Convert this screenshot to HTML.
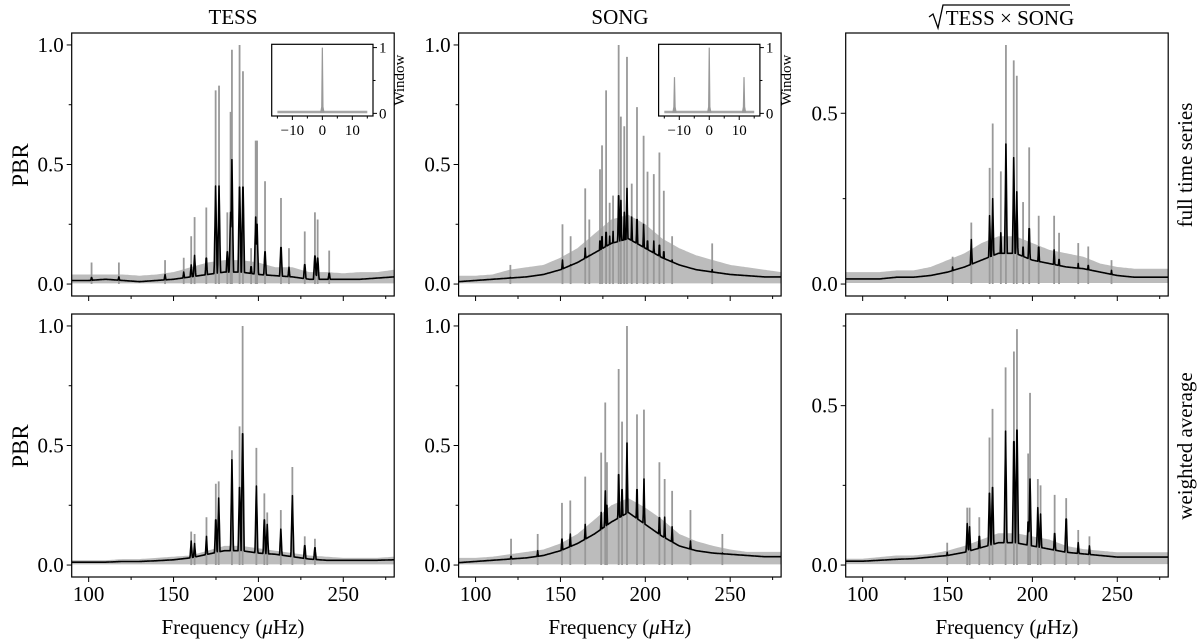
<!DOCTYPE html>
<html><head><meta charset="utf-8"><style>
body{margin:0;background:#fff}
svg{display:block;font-family:"Liberation Serif",serif}
</style></head><body>
<svg id="fig" width="1200" height="642" viewBox="0 0 1200 642" xmlns="http://www.w3.org/2000/svg"></svg>
<script>
// ---- data ----
const bgFreq = [90,100,110,120,130,140,150,160,170,180,190,200,210,220,230,240,250,260,270,280];

const tessFullPeakFreq = [101.7,117.8,145,156,160.4,162.4,169.3,174.8,176.8,181.7,183.6,184.4,188.9,190.9,195.7,198.4,199.2,203.9,213.3,218,227.3,233.3,234.9,241.7];
const tessFullPeakGray = [0.09,0.09,0.10,0.11,0.20,0.28,0.32,0.81,0.83,0.30,0.72,0.98,1.0,0.89,0.15,0.60,0.60,0.43,0.36,0.15,0.22,0.30,0.27,0.14];
const tessFullPeakBlack = [0.03,0.03,0.04,0.05,0.08,0.12,0.12,0.41,0.41,0.15,0.30,0.52,0.45,0.45,0.08,0.28,0.25,0.15,0.17,0.07,0.09,0.13,0.12,0.05];
const tessFullBgGray = [0.04,0.04,0.04,0.04,0.035,0.04,0.05,0.07,0.09,0.10,0.10,0.09,0.07,0.07,0.05,0.05,0.045,0.05,0.05,0.06];
const tessFullBgBlack = [0.015,0.015,0.02,0.015,0.01,0.015,0.02,0.03,0.04,0.05,0.05,0.04,0.035,0.03,0.02,0.02,0.02,0.02,0.025,0.03];

const songFullPeakFreq = [120.5,151.2,156,164.6,167,173.3,174.5,176.9,179,181,184.3,185.6,187.6,189.2,192,195.1,199,201.3,205,208.3,210.9,215.8,239.4];
const songFullPeakGray = [0.08,0.25,0.20,0.40,0.27,0.48,0.58,0.81,0.34,0.37,1.0,0.70,0.66,0.95,0.42,0.74,0.62,0.47,0.46,0.55,0.39,0.20,0.17];
const songFullPeakBlack = [0.03,0.10,0.08,0.15,0.12,0.20,0.22,0.24,0.2,0.22,0.41,0.35,0.30,0.40,0.28,0.30,0.25,0.2,0.18,0.18,0.15,0.10,0.06];
const songFullBgGray = [0.035,0.035,0.04,0.06,0.07,0.08,0.11,0.15,0.21,0.27,0.29,0.25,0.19,0.15,0.12,0.10,0.08,0.07,0.06,0.05];
const songFullBgBlack = [0.01,0.015,0.02,0.025,0.03,0.04,0.06,0.09,0.13,0.17,0.19,0.15,0.11,0.08,0.06,0.05,0.04,0.035,0.03,0.03];

const combFullPeakFreq = [153,164,174.8,176.6,181.4,184.4,189,190.8,194.5,198.1,203.7,212.8,215.7,227,232.9,246.6];
const combFullPeakGray = [0.08,0.18,0.34,0.47,0.33,0.70,0.655,0.61,0.24,0.40,0.2,0.2,0.15,0.12,0.11,0.07];
const combFullPeakBlack = [0.05,0.13,0.20,0.25,0.15,0.41,0.37,0.27,0.12,0.18,0.12,0.1,0.08,0.06,0.06,0.04];
const combFullBgGray = [0.035,0.035,0.035,0.04,0.04,0.05,0.07,0.09,0.12,0.14,0.14,0.12,0.10,0.09,0.08,0.06,0.05,0.045,0.045,0.045];
const combFullBgBlack = [0.015,0.015,0.015,0.02,0.02,0.025,0.035,0.05,0.07,0.09,0.09,0.07,0.06,0.05,0.045,0.035,0.025,0.02,0.02,0.02];

const tessAvgPeakFreq = [160.4,162.4,169.4,174.9,176.6,184.4,188.9,190.7,198.8,203.5,205.2,213.2,220,227.3,233.3];
const tessAvgPeakGray = [0.14,0.13,0.20,0.34,0.35,0.48,0.58,1.0,0.49,0.30,0.22,0.23,0.41,0.12,0.11];
const tessAvgPeakBlack = [0.10,0.09,0.12,0.21,0.28,0.44,0.36,0.61,0.33,0.21,0.17,0.15,0.29,0.09,0.08];
const tessAvgBgGray = [0.02,0.02,0.02,0.025,0.025,0.03,0.035,0.04,0.06,0.08,0.08,0.07,0.06,0.05,0.04,0.035,0.03,0.03,0.03,0.035];
const tessAvgBgBlack = [0.012,0.012,0.012,0.015,0.015,0.018,0.022,0.03,0.045,0.06,0.06,0.05,0.045,0.035,0.025,0.02,0.02,0.02,0.02,0.022];

const songAvgPeakFreq = [120.9,136.6,150.9,155.8,164.6,174,176.4,177.4,184.3,186.3,189.2,195.1,199.2,208.3,211.4,215.8,226.6,245.4];
const songAvgPeakGray = [0.11,0.13,0.26,0.27,0.37,0.47,0.68,0.43,0.82,0.60,1.0,0.63,0.65,0.43,0.36,0.31,0.23,0.13];
const songAvgPeakBlack = [0.04,0.06,0.12,0.13,0.17,0.22,0.31,0.25,0.42,0.35,0.51,0.35,0.36,0.22,0.2,0.16,0.1,0.05];
const songAvgBgGray = [0.03,0.03,0.035,0.045,0.055,0.065,0.09,0.13,0.19,0.25,0.28,0.24,0.19,0.13,0.10,0.08,0.065,0.055,0.055,0.055];
const songAvgBgBlack = [0.01,0.015,0.02,0.025,0.03,0.04,0.06,0.09,0.13,0.18,0.22,0.17,0.12,0.08,0.06,0.05,0.045,0.04,0.035,0.035];

const combAvgPeakFreq = [149.8,161.6,163,168.7,174.7,176.5,184.2,189.1,190.9,197.5,198.6,203.2,204.8,213.1,219.9,227,233.6];
const combAvgPeakGray = [0.07,0.18,0.18,0.15,0.40,0.49,0.62,0.67,0.74,0.35,0.54,0.27,0.25,0.22,0.21,0.11,0.09];
const combAvgPeakBlack = [0.04,0.13,0.12,0.1,0.25,0.27,0.42,0.43,0.47,0.15,0.27,0.18,0.16,0.11,0.16,0.07,0.06];
const combAvgBgGray = [0.02,0.02,0.025,0.03,0.03,0.035,0.045,0.06,0.08,0.10,0.10,0.09,0.08,0.06,0.05,0.045,0.04,0.04,0.04,0.04];
const combAvgBgBlack = [0.012,0.012,0.015,0.018,0.02,0.025,0.03,0.04,0.055,0.07,0.07,0.06,0.05,0.04,0.035,0.03,0.025,0.025,0.025,0.025];

const tessWindowFreq = [0];
const tessWindowPower = [1];
const songWindowFreq = [-11.6,0,11.6];
const songWindowPower = [0.55,1,0.55];

const xTickLabels = ["100","150","200","250"];

// ---- drawing ----
const NS = "http://www.w3.org/2000/svg";
const svg = document.getElementById('fig');
function el(tag, attrs, parent){
  const e = document.createElementNS(NS, tag);
  for (const k in attrs) e.setAttribute(k, attrs[k]);
  (parent||svg).appendChild(e);
  return e;
}
function interp(xs, ys, x){
  if (x<=xs[0]) return ys[0];
  for (let i=1;i<xs.length;i++){ if (x<=xs[i]){ const t=(x-xs[i-1])/(xs[i]-xs[i-1]); return ys[i-1]+t*(ys[i]-ys[i-1]); } }
  return ys[ys.length-1];
}
const colX = [71.7, 458.6, 845.7], W = 322.5;
const rowY = [[33,296],[314,577]];
const panels = [
 {c:0,r:0,name:'tess-full',yl:[-0.05,1.05],pf:tessFullPeakFreq,pg:tessFullPeakGray,pb:tessFullPeakBlack,bg:tessFullBgGray,bb:tessFullBgBlack,wf:tessWindowFreq,wp:tessWindowPower,yt:[0,0.5,1.0]},
 {c:1,r:0,name:'song-full',yl:[-0.05,1.05],pf:songFullPeakFreq,pg:songFullPeakGray,pb:songFullPeakBlack,bg:songFullBgGray,bb:songFullBgBlack,wf:songWindowFreq,wp:songWindowPower,yt:[0,0.5,1.0]},
 {c:2,r:0,name:'combined-full',yl:[-0.035,0.735],pf:combFullPeakFreq,pg:combFullPeakGray,pb:combFullPeakBlack,bg:combFullBgGray,bb:combFullBgBlack,yt:[0,0.5]},
 {c:0,r:1,name:'tess-avg',yl:[-0.05,1.05],pf:tessAvgPeakFreq,pg:tessAvgPeakGray,pb:tessAvgPeakBlack,bg:tessAvgBgGray,bb:tessAvgBgBlack,yt:[0,0.5,1.0]},
 {c:1,r:1,name:'song-avg',yl:[-0.05,1.05],pf:songAvgPeakFreq,pg:songAvgPeakGray,pb:songAvgPeakBlack,bg:songAvgBgGray,bb:songAvgBgBlack,yt:[0,0.5,1.0]},
 {c:2,r:1,name:'combined-avg',yl:[-0.0375,0.7875],pf:combAvgPeakFreq,pg:combAvgPeakGray,pb:combAvgPeakBlack,bg:combAvgBgGray,bb:combAvgBgBlack,yt:[0,0.5]}
];
panels.forEach((p,idx)=>{
  const x0=colX[p.c], x1=x0+W, y0=rowY[p.r][0], y1=rowY[p.r][1];
  const X = f => x0 + (f-90)/(280-90)*W;
  const Y = v => y1 - (v-p.yl[0])/(p.yl[1]-p.yl[0])*(y1-y0);
  const g = el('g',{});
  
  
  const cp = el('clipPath',{id:'cp'+idx}, g);
  el('rect',{x:x0,y:y0,width:W,height:y1-y0},cp);
  const plot = el('g',{'clip-path':'url(#cp'+idx+')'}, g);
  let pts=[];
  for (let f=90; f<=280; f+=1) pts.push(X(f).toFixed(1)+','+Y(interp(bgFreq,p.bg,f)).toFixed(1));
  pts.push(X(280)+','+Y(0.003)); pts.push(X(90)+','+Y(0.003));
  const band = el('polygon',{points:pts.join(' '),fill:'#bcbcbc'},plot);
  
  
  p.pf.forEach((f,i)=>{
    const ln = el('line',{x1:X(f),x2:X(f),y1:Y(0),y2:Y(p.pg[i]),stroke:'#999',
      'stroke-width':1.8},plot);
    
    
  });
  let d='';
  for (let f=90; f<=280.01; f+=0.2){
    let v = interp(bgFreq,p.bb,f);
    p.pf.forEach((fp,i)=>{ const w=Math.max(0,1-Math.abs(f-fp)/1.0); v=Math.max(v,p.pb[i]*w); });
    d += (d?'L':'M') + X(f).toFixed(1)+','+Y(v).toFixed(1);
  }
  const bl = el('path',{d:d,fill:'none',stroke:'#000','stroke-width':1.6,'stroke-linejoin':'round'},plot);
  
  
  const fr = el('rect',{x:x0,y:y0,width:W,height:y1-y0,fill:'none',stroke:'#000','stroke-width':1.2},g);
  
  
  [100,125,150,175,200,225,250,275].forEach(t=>{
    const L = (t%50===0)?5:3;
    el('line',{x1:X(t),x2:X(t),y1:y1,y2:y1+L,stroke:'#000','stroke-width':1},g);
  });
  if (p.r===1){
    [100,150,200,250].forEach((t,i)=>{
      const tx = el('text',{x:X(t),y:y1+24,'font-size':21,'text-anchor':'middle'},g);
      tx.textContent = xTickLabels[i];
      
      
    });
    const xl = el('text',{x:(x0+x1)/2,y:634,'font-size':21,'text-anchor':'middle'},g);
    xl.innerHTML = 'Frequency (<tspan font-style="italic">μ</tspan>Hz)';
    
    
  }
  for (let t=0; t<=1.0001; t+=0.25){
    if (t>p.yl[1]) continue;
    const major = Math.abs(t*2-Math.round(t*2))<1e-6;
    el('line',{x1:x0,x2:x0-(major?5:3),y1:Y(t),y2:Y(t),stroke:'#000','stroke-width':1},g);
  }
  p.yt.forEach(t=>{
    const tx = el('text',{x:x0-8,y:Y(t)+7,'font-size':21,'text-anchor':'end'},g);
    tx.textContent = t.toFixed(1);
    
    
  });
  if (p.wf){
    const ix0=x0+200, ix1=ix0+101.3, iy0=44.3, iy1=116;
    const IX = f => ix0 + (f+16.9)/33.8*(ix1-ix0);
    const IY = v => iy1 - (v+0.04)/1.09*(iy1-iy0);
    const ig = el('g',{},g);
    
    
    el('rect',{x:ix0,y:iy0,width:ix1-ix0,height:iy1-iy0,fill:'#fff'},ig);
    el('line',{x1:IX(-15),x2:IX(15),y1:IY(0.02),y2:IY(0.02),stroke:'#a6a6a6','stroke-width':2.5},ig);
    p.wf.forEach((f,i)=>{
      el('polygon',{points:`${IX(f)-1.5},${IY(0.02)} ${IX(f)-0.6},${IY(0.1)} ${IX(f)},${IY(p.wp[i])} ${IX(f)+0.6},${IY(0.1)} ${IX(f)+1.5},${IY(0.02)}`,fill:'#999',stroke:'#999','stroke-width':1.2},ig);
    });
    el('rect',{x:ix0,y:iy0,width:ix1-ix0,height:iy1-iy0,fill:'none',stroke:'#000','stroke-width':1.2},ig);
    [-15,-10,-5,0,5,10,15].forEach(t=>{
      el('line',{x1:IX(t),x2:IX(t),y1:iy1,y2:iy1+(t%10===0?4:2.5),stroke:'#000','stroke-width':1},ig);
    });
    [-10,0,10].forEach(t=>{
      const tx=el('text',{x:IX(t),y:iy1+19,'font-size':15,'text-anchor':'middle'},ig);
      tx.textContent = t<0?('−'+(-t)):String(t);
    });
    [[0,4],[0.5,2.5],[1,4]].forEach(([t,L])=>{
      el('line',{x1:ix1,x2:ix1+L,y1:IY(t),y2:IY(t),stroke:'#000','stroke-width':1},ig);
    });
    [0,1].forEach(t=>{ const tx=el('text',{x:ix1+6,y:IY(t)+5,'font-size':15},ig); tx.textContent=String(t); });
    const wl = el('text',{x:0,y:0,'font-size':15,'text-anchor':'middle',transform:`translate(${ix1+31},${(iy0+iy1)/2}) rotate(-90)`},ig);
    wl.textContent='Window';
  }
});
function label(txt,x,y,size,rot,name){
  const t = el('text',{x:0,y:0,'font-size':size,'text-anchor':'middle',transform:`translate(${x},${y})`+(rot?` rotate(${rot})`:'')});
  t.textContent = txt;
  
  
  return t;
}
label('TESS',233,24,21,0,'title-tess');
label('SONG',620,24,21,0,'title-song');
label('TESS × SONG',1010,25,21,0,'title-combined');
const rad = el('polyline',{points:'929,17 933,14 938,28 943,5 1070,5',fill:'none',stroke:'#000','stroke-width':1.3});


label('PBR',28,165,23,-90,'y-axis-title-top');
label('PBR',28,446,23,-90,'y-axis-title-bottom');
label('full time series',1192,165,21,-90,'row-label-full');
label('weighted average',1192,446,21,-90,'row-label-weighted');
</script>
</body></html>
